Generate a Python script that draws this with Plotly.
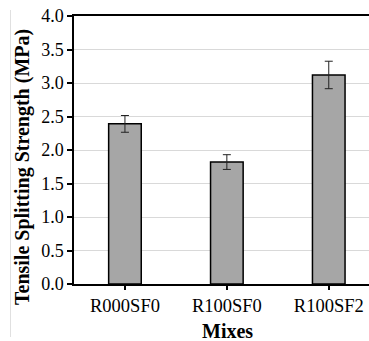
import plotly.graph_objects as go

mixes = ["R000SF0", "R100SF0", "R100SF2"]
strength = [2.39, 1.82, 3.12]
strength_err = [0.125, 0.11, 0.205]
y_ticks = [0.0, 0.5, 1.0, 1.5, 2.0, 2.5, 3.0, 3.5, 4.0]

W, H = 369, 341
L, R, T, B = 74, 0, 16, 57
pw, ph = W - L - R, H - T - B

def px_x(x):
    return (x - L) / pw

def px_y(y):
    return (H - B - y) / ph

font = "Liberation Serif"

fig = go.Figure(
    go.Bar(
        x=list(range(len(mixes))),
        y=strength,
        width=0.32,
        marker=dict(color="#a6a6a6", line=dict(color="#000000", width=1.5)),
        error_y=dict(type="data", array=strength_err, visible=True,
                     color="#222222", thickness=1, width=4),
    )
)

fig.update_layout(
    width=W, height=H,
    margin=dict(l=L, r=R, t=T, b=B),
    paper_bgcolor="white", plot_bgcolor="white",
    showlegend=False,
    font=dict(family=font, size=18, color="#000000"),
    xaxis=dict(
        range=[-0.5, 2.395],
        tickmode="array",
        tickvals=list(range(len(mixes))),
        ticktext=mixes,
        showline=True, linecolor="#000000", linewidth=1.5,
        mirror=True,
        ticks="outside", ticklen=4, tickwidth=1.5, tickcolor="#000000",
        showgrid=False, zeroline=False,
        tickfont=dict(family=font, size=18.5),
    ),
    yaxis=dict(
        range=[0, 4.0],
        tickmode="array",
        tickvals=y_ticks,
        ticktext=[f"{v:.1f}" for v in y_ticks],
        showline=True, linecolor="#000000", linewidth=1.5,
        ticks="outside", ticklen=5, tickwidth=1.5, tickcolor="#000000",
        showgrid=True, gridcolor="#d9d9d9", gridwidth=1,
        zeroline=False,
        tickfont=dict(family=font, size=18),
    ),
    annotations=[
        dict(text="<b>Tensile Splitting Strength (MPa)</b>", textangle=-90,
             xref="paper", yref="paper", x=px_x(22), y=px_y(167),
             xanchor="center", yanchor="middle", showarrow=False,
             font=dict(family=font, size=20)),
        dict(text="<b>Mixes</b>",
             xref="paper", yref="paper", x=px_x(227.5), y=px_y(331),
             xanchor="center", yanchor="middle", showarrow=False,
             font=dict(family=font, size=20)),
    ],
    shapes=[
        dict(type="line", xref="paper", yref="paper",
             x0=px_x(10.5), x1=px_x(10.5), y0=px_y(10), y1=px_y(337),
             line=dict(color="#e0e0e0", width=1)),
    ],
)

fig.write_html("out.html", config={"displayModeBar": False},
               post_script="document.body.style.margin='0';")
